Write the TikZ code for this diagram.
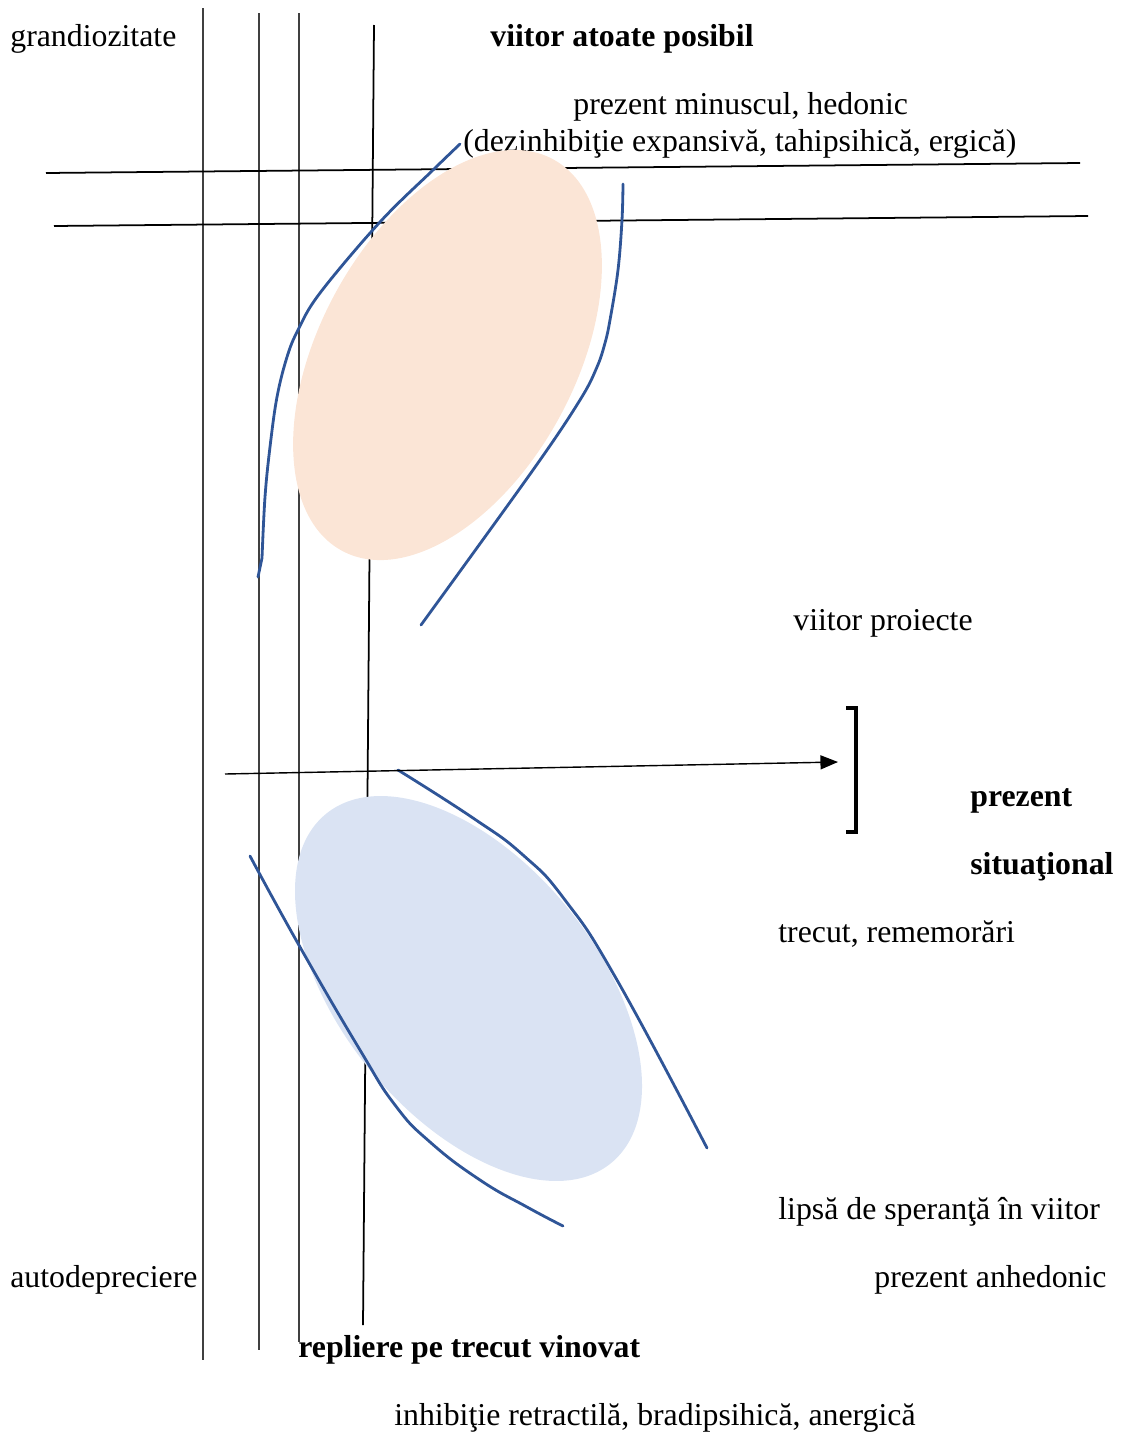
\documentclass[tikz,border=0pt]{standalone}
\usepackage{fontspec}
\setmainfont{Liberation Serif}
\usetikzlibrary{arrows.meta}

\definecolor{piersica}{RGB}{251,229,214}
\definecolor{bleu}{RGB}{218,227,243}
\definecolor{albastru}{RGB}{47,85,151}

\begin{document}
\begin{tikzpicture}[x=0.02cm, y=-0.02cm,
    txt/.style={anchor=base west, inner sep=0pt, font=\fontsize{18.1}{22}\selectfont},
    gras/.style={anchor=base west, inner sep=0pt, font=\fontsize{18.1}{22}\selectfont\bfseries},
    axa/.style={line width=1pt, black!75},
    contur/.style={line width=1.6pt, albastru, line cap=round}]
    \useasboundingbox (0,0) rectangle (1120,1434);
    % Вертикальные линии
    \draw[axa] (203,8) -- (203,1360);
    \draw[axa] (259,13) -- (259,1350);
    \draw[axa] (299,13) -- (299,1342);
    \draw[axa, black] (374,25) -- (363,1325);
    % Горизонтальные линии
    \draw[axa, black] (46,173) -- (1080,163);
    \draw[axa, black] (54,226) -- (1088,216);
    % Подписи
    \node[txt] (grand) at (10,46) {grandiozitate};
    \node[gras] (viitor) at (490,46) {viitor atoate posibil};
    \node[txt] (hedonic) at (573,114) {prezent minuscul, hedonic};
    \node[txt] (dezinh) at (463,151) {(dezinhibiţie expansivă, tahipsihică, ergică)};
    \node[txt] (proiecte) at (793,630) {viitor proiecte};
    \node[gras] (prezent) at (970,806) {prezent};
    \node[gras] (situational) at (970,874) {situaţional};
    \node[txt] (trecut) at (778,942) {trecut, rememorări};
    \node[txt] (lipsa) at (778,1219) {lipsă de speranţă în viitor};
    \node[txt] (autodep) at (10,1287) {autodepreciere};
    \node[txt] (anhedonic) at (874,1287) {prezent anhedonic};
    \node[gras] (repliere) at (298,1357) {repliere pe trecut vinovat};
    \node[txt] (inhibitie) at (394,1425) {inhibiţie retractilă, bradipsihică, anergică};
    % Эллипсы
    \fill[piersica, rotate around={61.7:(447.5,355)}] (447.5,355) ellipse [x radius=222.4, y radius=128.1];
    \fill[bleu, rotate around={-50.8:(468.5,988.5)}] (468.5,988.5) ellipse [x radius=225.4, y radius=127.8];
    % Кривые
    \draw[contur] plot[smooth, tension=0.6] coordinates {(460,144) (433,170) (380,222) (320,293) (298,330) (287,357) (277,397) (270,447) (265,497) (262,558)} -- (258,577);
    \draw[contur] plot[smooth, tension=0.6] coordinates {(623,184) (622,220) (618,270) (610,320) (605,343) (597,367) (580,400) (533,470) (421,625)};
    \draw[contur] plot[smooth, tension=0.8] coordinates {(398,770) (473,818) (523,855) (565,900) (617,980) (707,1148)};
    \draw[contur] plot[smooth, tension=0.8] coordinates {(250,856) (300,947) (360,1050) (395,1105) (430,1142) (480,1180) (527,1207) (563,1226)};
    % Стрелка и скобка
    \coordinate (start) at (225,774);
    \coordinate (varf) at (838,762);
    \draw[-{Triangle[length=10pt,width=8pt]}, line width=0.8pt] (start) -- (varf);
    \draw[line width=2.2pt, line join=miter] (846,708) -- (856,708) -- (856,832) -- (846,832);
\end{tikzpicture}
\end{document}
